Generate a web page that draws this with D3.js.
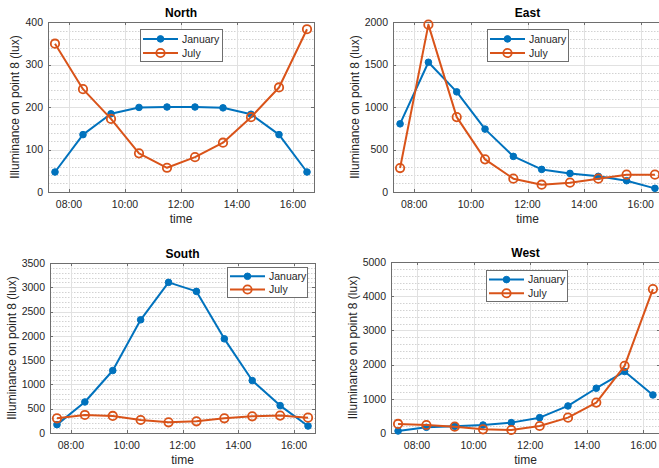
<!DOCTYPE html>
<html><head><meta charset="utf-8">
<script src="https://cdn.jsdelivr.net/npm/d3@7"></script>
<style>
body{margin:0;background:#fff}
svg{display:block}
text{font-family:"Liberation Sans",Arial,Helvetica,sans-serif;fill:#262626}
</style>
</head><body>
<svg id="chart" width="659" height="468"></svg>
<script>
// ---------- data ----------
const hours = [7.5, 8.5, 9.5, 10.5, 11.5, 12.5, 13.5, 14.5, 15.5, 16.5];
const westHours = [7+20/60, 8+20/60, 9+20/60, 10+20/60, 11+20/60, 12+20/60, 13+20/60, 14+20/60, 15+20/60, 16+20/60];
const tickHours = [8, 10, 12, 14, 16];
const tickLabels = ["08:00", "10:00", "12:00", "14:00", "16:00"];
const seriesNames = ["January", "July"];

const northJan = [47, 135, 184, 199, 200, 200, 198, 183, 135, 47];
const northJul = [349, 242, 172, 91, 57, 82, 116, 176, 246, 383];
const eastJan  = [802, 1526, 1178, 740, 419, 266, 219, 184, 133, 43];
const eastJul  = [282, 1969, 881, 384, 157, 86, 110, 157, 204, 204];
const southJan = [172, 639, 1286, 2331, 3101, 2915, 1939, 1080, 564, 144];
const southJul = [303, 371, 351, 268, 220, 241, 303, 344, 358, 316];
const westJan  = [59, 166, 195, 234, 303, 449, 791, 1309, 1797, 1113];
const westJul  = [264, 234, 186, 107, 88, 205, 449, 889, 1963, 4209];

const northTicks = [0, 100, 200, 300, 400];
const eastTicks  = [0, 500, 1000, 1500, 2000];
const southTicks = [0, 500, 1000, 1500, 2000, 2500, 3000, 3500];
const westTicks  = [0, 1000, 2000, 3000, 4000, 5000];

const yLabel = "Illuminance on point 8 (lux)";
const xLabel = "time";
const colors = ["#0072BD", "#D95319"];

// ---------- layout ----------
const panels = [
  {title:"North", xs:hours, jan:northJan, jul:northJul, yTicks:northTicks, minorStep:20,
   xDom:[7.25,16.75], l:48, r:314, t:22, b:192, ylx:15, leg:{x:140,y:29,w:82,h:32}},
  {title:"East", xs:hours, jan:eastJan, jul:eastJul, yTicks:eastTicks, minorStep:100,
   xDom:[7.25,16.75], l:393, r:662, t:22, b:192, ylx:355, leg:{x:487,y:29,w:81,h:32}},
  {title:"South", xs:hours, jan:southJan, jul:southJul, yTicks:southTicks, minorStep:100,
   xDom:[7.25,16.75], l:50, r:315, t:263, b:433, ylx:12, leg:{x:227,y:267,w:80,h:30}},
  {title:"West", xs:westHours, jan:westJan, jul:westJul, yTicks:westTicks, minorStep:200,
   xDom:[7+5/60,16+35/60], l:391, r:660, t:262, b:433, ylx:353, leg:{x:486,y:270,w:81,h:31}}
];

const svg = d3.select("#chart");

panels.forEach(p => {
  const g = svg.append("g");
  const x = d3.scaleLinear().domain(p.xDom).range([p.l, p.r]);
  const yMax = p.yTicks[p.yTicks.length-1];
  const y = d3.scaleLinear().domain([0, yMax]).range([p.b, p.t]);

  // minor grid
  const minor = d3.range(0, yMax + 1e-9, p.minorStep).filter(v => !p.yTicks.includes(v));
  g.selectAll(".mg").data(minor).join("line")
    .attr("x1", p.l).attr("x2", p.r)
    .attr("y1", d => Math.round(y(d))+0.5).attr("y2", d => Math.round(y(d))+0.5)
    .attr("stroke", "#d2d2d2").attr("stroke-width", 1).attr("stroke-dasharray", "1.5,1.5");
  // major grid
  g.selectAll(".hg").data(p.yTicks).join("line")
    .attr("x1", p.l).attr("x2", p.r)
    .attr("y1", d => Math.round(y(d))+0.5).attr("y2", d => Math.round(y(d))+0.5)
    .attr("stroke", "#e1e1e1").attr("stroke-width", 1);
  g.selectAll(".vg").data(tickHours).join("line")
    .attr("x1", d => Math.round(x(d))+0.5).attr("x2", d => Math.round(x(d))+0.5)
    .attr("y1", p.t).attr("y2", p.b)
    .attr("stroke", "#e1e1e1").attr("stroke-width", 1);

  // axes box
  g.append("rect").attr("x", p.l+0.5).attr("y", p.t+0.5)
    .attr("width", p.r-p.l).attr("height", p.b-p.t)
    .attr("fill", "none").attr("stroke", "#6e6e6e").attr("stroke-width", 1);

  // ticks (inward, on all sides)
  const tk = 3;
  tickHours.forEach(h => {
    const xx = Math.round(x(h))+0.5;
    g.append("line").attr("x1", xx).attr("x2", xx).attr("y1", p.b).attr("y2", p.b-tk).attr("stroke", "#6e6e6e");
    g.append("line").attr("x1", xx).attr("x2", xx).attr("y1", p.t).attr("y2", p.t+tk).attr("stroke", "#6e6e6e");
  });
  p.yTicks.forEach(v => {
    const yy = Math.round(y(v))+0.5;
    g.append("line").attr("x1", p.l).attr("x2", p.l+tk).attr("y1", yy).attr("y2", yy).attr("stroke", "#6e6e6e");
    g.append("line").attr("x1", p.r).attr("x2", p.r-tk).attr("y1", yy).attr("y2", yy).attr("stroke", "#6e6e6e");
  });

  // tick labels
  g.selectAll(".xt").data(tickHours).join("text")
    .attr("x", d => x(d)).attr("y", p.b + 16)
    .attr("text-anchor", "middle").attr("font-size", "10.5px")
    .text((d, i) => tickLabels[i]);
  g.selectAll(".yt").data(p.yTicks).join("text")
    .attr("x", p.l - 5).attr("y", d => y(d)).attr("dy", "0.36em")
    .attr("text-anchor", "end").attr("font-size", "10.5px")
    .text(d => d);

  // labels
  g.append("text").attr("x", (p.l+p.r)/2).attr("y", p.t - 5)
    .attr("text-anchor", "middle").attr("font-size", "12px").attr("font-weight", "bold")
    .style("fill", "#000").text(p.title);
  g.append("text").attr("x", (p.l+p.r)/2).attr("y", p.b + 31)
    .attr("text-anchor", "middle").attr("font-size", "12px").text(xLabel);
  g.append("text").attr("transform", `translate(${p.ylx},${(p.t+p.b)/2}) rotate(-90)`)
    .attr("dy", "0.35em").attr("text-anchor", "middle").attr("font-size", "12px").text(yLabel);

  // series
  const series = [p.jan, p.jul];
  series.forEach((vals, si) => {
    const pts = vals.map((v, i) => [x(p.xs[i]), y(v)]);
    g.append("path").attr("d", d3.line()(pts))
      .attr("fill", "none").attr("stroke", colors[si]).attr("stroke-width", 2)
      .attr("stroke-linejoin", "round");
    g.selectAll(".m" + si).data(pts).join("circle")
      .attr("cx", d => d[0]).attr("cy", d => d[1])
      .attr("r", si === 0 ? 3.3 : 4.2)
      .attr("fill", si === 0 ? colors[0] : "none")
      .attr("stroke", colors[si]).attr("stroke-width", si === 0 ? 1 : 1.8);
  });

  // legend
  const L = p.leg;
  g.append("rect").attr("x", L.x+0.5).attr("y", L.y+0.5).attr("width", L.w).attr("height", L.h)
    .attr("fill", "#fff").attr("stroke", "#6e6e6e").attr("stroke-width", 1);
  seriesNames.forEach((name, si) => {
    const ly = L.y + (si === 0 ? L.h*0.31 : L.h*0.75);
    g.append("line").attr("x1", L.x+3).attr("x2", L.x+38).attr("y1", ly).attr("y2", ly)
      .attr("stroke", colors[si]).attr("stroke-width", 2);
    g.append("circle").attr("cx", L.x+20.5).attr("cy", ly)
      .attr("r", si === 0 ? 3.3 : 4.2)
      .attr("fill", si === 0 ? colors[0] : "none")
      .attr("stroke", colors[si]).attr("stroke-width", si === 0 ? 1 : 1.8);
    g.append("text").attr("x", L.x+42).attr("y", ly).attr("dy", "0.36em")
      .attr("font-size", "10.5px").text(name);
  });
});
</script>
</body></html>
